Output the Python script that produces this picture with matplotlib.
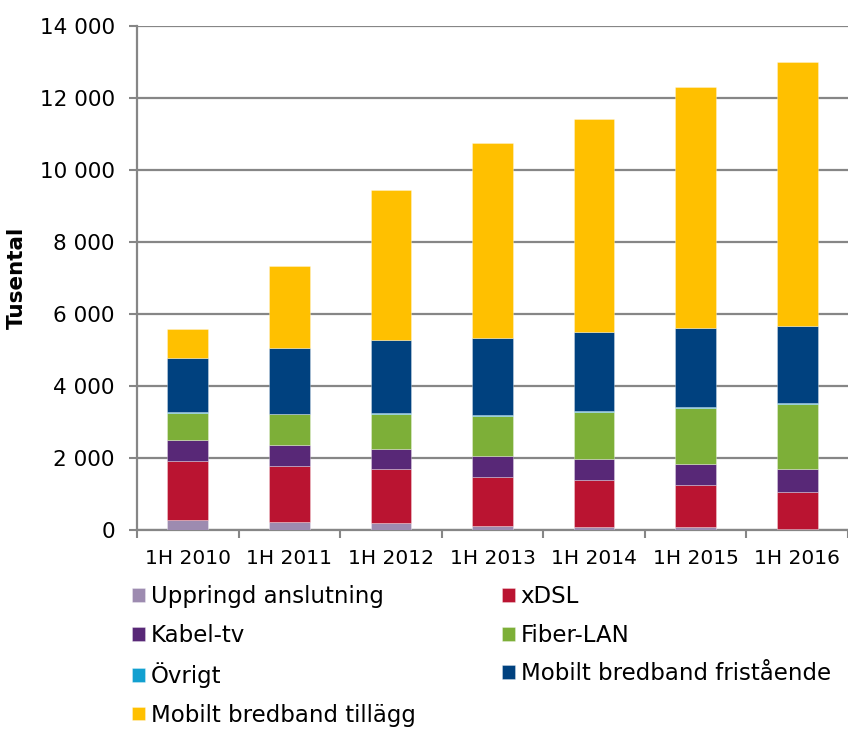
import numpy as np
import matplotlib.pyplot as plt
from matplotlib.ticker import FuncFormatter

# Fast internet subscriptions by type, thousands
years = ['1H 2010', '1H 2011', '1H 2012', '1H 2013', '1H 2014', '1H 2015', '1H 2016']
uppringd = [280, 225, 205, 110, 85, 75, 20]
xdsl = [1640, 1545, 1480, 1370, 1305, 1165, 1025]
kabel = [575, 590, 575, 575, 575, 600, 640]
fiber = [750, 850, 970, 1120, 1320, 1560, 1820]
ovrigt = [20, 20, 20, 20, 20, 20, 20]
fristaende = [1510, 1825, 2035, 2135, 2190, 2185, 2150]
tillagg = [805, 2290, 4160, 5410, 5920, 6710, 7330]

series = [
    ('Uppringd anslutning', uppringd, '#9d8bb0'),
    ('xDSL', xdsl, '#ba1431'),
    ('Kabel-tv', kabel, '#582877'),
    ('Fiber-LAN', fiber, '#7daf38'),
    ('Övrigt', ovrigt, '#12a0d0'),
    ('Mobilt bredband fristående', fristaende, '#00417f'),
    ('Mobilt bredband tillägg', tillagg, '#ffc000'),
]

plt.rcParams['font.family'] = ['DejaVu Sans']

fig = plt.figure(figsize=(8.48, 7.29), dpi=100)
ax = fig.add_axes([137 / 848, (729 - 530) / 729, (848 - 137) / 848, (530 - 26) / 729])

x = np.arange(len(years))
bottom = np.zeros(len(years))
handles = {}
for name, vals, col in series:
    b = ax.bar(x, vals, width=0.4, bottom=bottom, color=col,
               edgecolor=(1, 1, 1, 0.35), linewidth=0.6, zorder=3, label=name)
    handles[name] = b
    bottom += np.array(vals)

ax.set_xlim(-0.5, len(years) - 0.5)
ax.set_ylim(0, 14000)
ax.set_yticks(np.arange(0, 14001, 2000))
ax.yaxis.set_major_formatter(FuncFormatter(lambda v, p: f'{int(v):,}'.replace(',', ' ')))
ax.set_xticks(x)
ax.set_xticklabels(years)
ax.set_xticks(np.arange(-0.5, len(years)), minor=True)
ax.tick_params(axis='x', which='major', length=0, pad=14, labelsize=14.5)
ax.tick_params(axis='x', which='minor', length=6, width=1.5, color='#868686')
ax.tick_params(axis='y', length=6, width=1.5, color='#868686', labelsize=15.5, pad=10)

ax.grid(axis='y', color='#868686', linewidth=1.6, zorder=0)
for s in ['top', 'right']:
    ax.spines[s].set_visible(False)
for s in ['left', 'bottom']:
    ax.spines[s].set_color('#868686')
    ax.spines[s].set_linewidth(1.6)

ax.set_ylabel('Tusental', fontsize=15.5, fontweight='bold', labelpad=9)

order = ['Uppringd anslutning', 'Kabel-tv', 'Övrigt', 'Mobilt bredband tillägg',
         'xDSL', 'Fiber-LAN', 'Mobilt bredband fristående']
fig.legend([handles[n] for n in order], order, ncol=2, loc='upper left',
           bbox_to_anchor=(123 / 848, 1 - 576 / 729), frameon=False,
           fontsize=16.5, handlelength=0.55, handleheight=0.55, handletextpad=0.25,
           columnspacing=3.8, labelspacing=0.68, borderaxespad=0)

fig.savefig('out.png', dpi=100)
